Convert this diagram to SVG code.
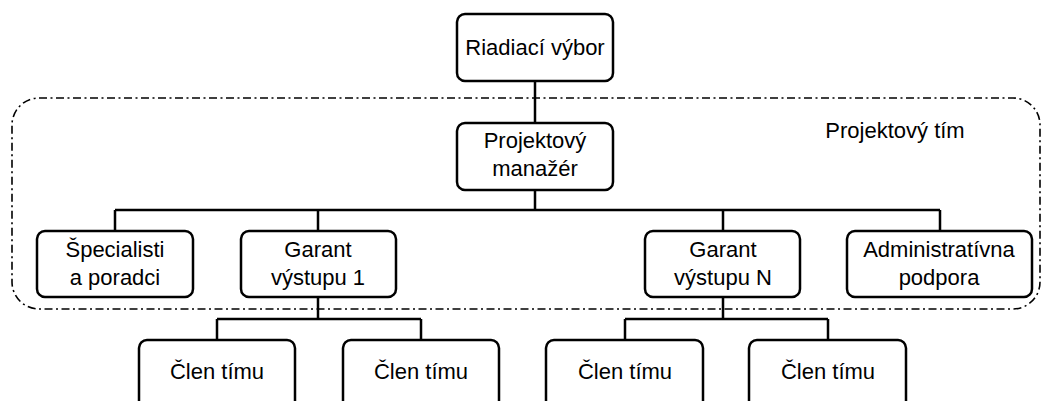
<svg xmlns="http://www.w3.org/2000/svg" width="1043" height="401" viewBox="0 0 1043 401">
  <style>
    .box { fill: #ffffff; stroke: #000000; stroke-width: 2.5; }
    .lbl { font-family: "Liberation Sans", Arial, sans-serif; font-size: 22px; fill: #000000; text-anchor: middle; }
    .wire { fill: none; stroke: #000000; stroke-width: 2.5; }
    .team { fill: none; stroke: #000000; stroke-width: 1.6; stroke-dasharray: 8 3.5 2 3.5; }
  </style>
  <rect width="1043" height="401" fill="#ffffff"/>

  <!-- project team boundary -->
  <g id="team">
    <rect class="team" x="12" y="98" width="1028" height="211" rx="27" ry="27"/>
    <text class="lbl" x="895" y="138">Projektový tím</text>
  </g>

  <!-- connectors -->
  <g id="connectors">
    <path class="wire" d="M535 81 V123"/>
    <path class="wire" d="M535 190 V210 M115 210 H940 M115 210 V231 M318 210 V231 M723 210 V231 M940 210 V231"/>
    <path class="wire" d="M318 297 V319 M217 319 H421 M217 319 V340 M421 319 V340"/>
    <path class="wire" d="M723 297 V319 M625 319 H828 M625 319 V340 M828 319 V340"/>
  </g>

  <g id="steering">
    <rect class="box" x="457" y="14" width="156" height="67" rx="8"/>
    <text class="lbl" x="535" y="55">Riadiací výbor</text>
  </g>
  <g id="manager">
    <rect class="box" x="457" y="123" width="156" height="67" rx="8"/>
    <text class="lbl" x="535" y="148">Projektový</text>
    <text class="lbl" x="535" y="176">manažér</text>
  </g>
  <g id="specialists">
    <rect class="box" x="37" y="231" width="156" height="66" rx="8"/>
    <text class="lbl" x="115" y="257">Špecialisti</text>
    <text class="lbl" x="115" y="285">a poradci</text>
  </g>
  <g id="guarantor1">
    <rect class="box" x="241" y="231" width="155" height="66" rx="8"/>
    <text class="lbl" x="318" y="257">Garant</text>
    <text class="lbl" x="318" y="285">výstupu 1</text>
  </g>
  <g id="guarantorN">
    <rect class="box" x="645" y="231" width="155" height="66" rx="8"/>
    <text class="lbl" x="723" y="257">Garant</text>
    <text class="lbl" x="723" y="285">výstupu N</text>
  </g>
  <g id="admin">
    <rect class="box" x="847" y="231" width="185" height="66" rx="8"/>
    <text class="lbl" x="939" y="257">Administratívna</text>
    <text class="lbl" x="939" y="285">podpora</text>
  </g>
  <g id="member1">
    <rect class="box" x="139" y="340" width="156" height="80" rx="8"/>
    <text class="lbl" x="217" y="379">Člen tímu</text>
  </g>
  <g id="member2">
    <rect class="box" x="343" y="340" width="156" height="80" rx="8"/>
    <text class="lbl" x="421" y="379">Člen tímu</text>
  </g>
  <g id="member3">
    <rect class="box" x="546" y="340" width="157" height="80" rx="8"/>
    <text class="lbl" x="625" y="379">Člen tímu</text>
  </g>
  <g id="member4">
    <rect class="box" x="749" y="340" width="157" height="80" rx="8"/>
    <text class="lbl" x="828" y="379">Člen tímu</text>
  </g>
</svg>
